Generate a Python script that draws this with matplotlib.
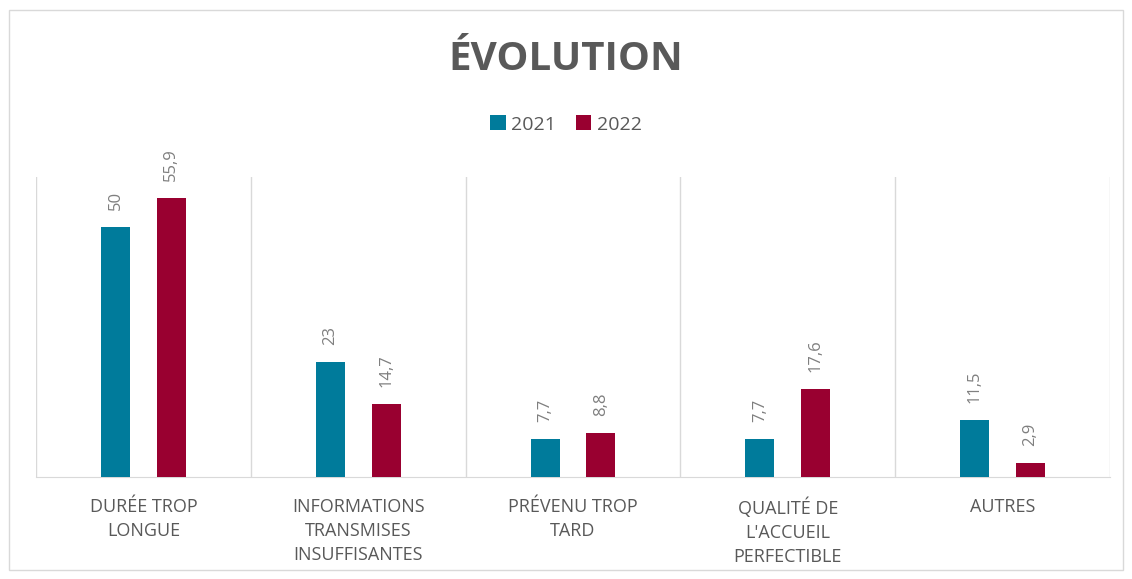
import matplotlib

matplotlib.use("Agg")
import matplotlib.pyplot as plt
import numpy as np
from matplotlib.patches import Rectangle

categories = ["DURÉE TROP\nLONGUE", "INFORMATIONS\nTRANSMISES\nINSUFFISANTES",
              "PRÉVENU TROP\nTARD", "QUALITÉ DE\nL'ACCUEIL\nPERFECTIBLE", "AUTRES"]
vals_2021 = [50, 23, 7.7, 7.7, 11.5]
vals_2022 = [55.9, 14.7, 8.8, 17.6, 2.9]
labels_2021 = ["50", "23", "7,7", "7,7", "11,5"]
labels_2022 = ["55,9", "14,7", "8,8", "17,6", "2,9"]

COLOR_2021 = "#007B9B"
COLOR_2022 = "#990030"
TEXT_GRAY = "#595959"
LABEL_GRAY = "#7F7F7F"
GRID = "#D9D9D9"

plt.rcParams["font.family"] = ["Open Sans", "DejaVu Sans"]

fig = plt.figure(figsize=(11.32, 5.79), dpi=100)
fig.patches.append(Rectangle((0.008, 0.015), 0.984, 0.968, transform=fig.transFigure,
                             fill=False, edgecolor=GRID, linewidth=1.0))
ax = fig.add_axes([0.0318, 0.176, 0.9488, 0.518])

x = np.arange(len(categories))
width = 0.135
off = 0.13
b1 = ax.bar(x - off, vals_2021, width, color=COLOR_2021, label="2021", zorder=3)
b2 = ax.bar(x + off, vals_2022, width, color=COLOR_2022, label="2022", zorder=3)

for bars, labs in ((b1, labels_2021), (b2, labels_2022)):
    for bar, lab in zip(bars, labs):
        ax.annotate(lab, xy=(bar.get_x() + bar.get_width() / 2, bar.get_height()),
                    xytext=(0, 12), textcoords="offset points", rotation=90,
                    ha="center", va="bottom", fontsize=12, color=LABEL_GRAY)

ax.set_xlim(-0.5, len(categories) - 0.5)
ax.set_ylim(0, 60)
ax.set_yticks([])
ax.set_xticks(x)
ax.set_xticklabels(categories, fontsize=13, color=TEXT_GRAY, linespacing=1.42)
ax.tick_params(axis="x", length=0, pad=15)
for b in np.arange(0.5, len(categories) - 0.5, 1.0):
    ax.axvline(b, color=GRID, linewidth=1.0, zorder=1)
ax.axvline(-0.5, color=GRID, linewidth=1.0, zorder=1)
ax.axvline(len(categories) - 0.5, color=GRID, linewidth=1.0, zorder=1)
for s in ("top", "right", "left"):
    ax.spines[s].set_visible(False)
ax.spines["bottom"].set_color(GRID)

fig.text(0.5, 0.897, "ÉVOLUTION", ha="center", va="center", fontsize=29,
         fontweight="bold", color=TEXT_GRAY)
fig.legend(loc="center", bbox_to_anchor=(0.5, 0.785), ncol=2, frameon=False,
           fontsize=14, labelcolor=TEXT_GRAY, handlelength=0.8, handleheight=0.8,
           handletextpad=0.3, columnspacing=1.0)

fig.savefig("out.png", dpi=100)
